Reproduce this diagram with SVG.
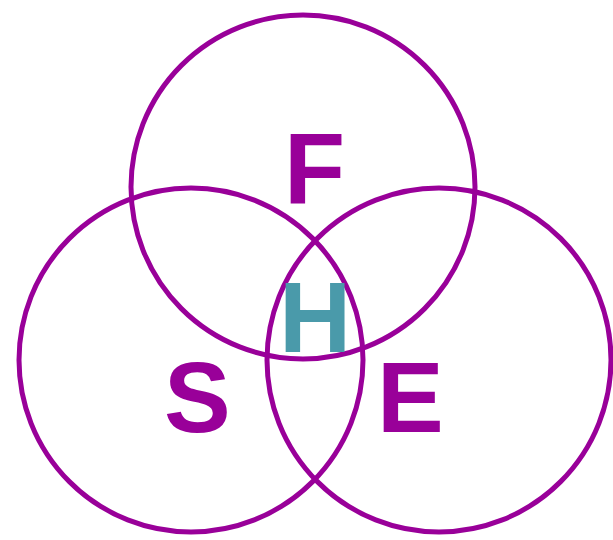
<svg xmlns="http://www.w3.org/2000/svg" width="613" height="540" viewBox="0 0 613 540">
<style>
.c{fill:none;stroke:#990099;stroke-width:5}
.t{font-family:"Liberation Sans",Arial,sans-serif;font-weight:bold;font-size:100px;fill:#990099}
.h{fill:#4A9AAA}
</style>
<rect width="613" height="540" fill="#fff"/>
<g id="circles">
<circle id="circle-f" class="c" cx="303" cy="187" r="172"/>
<circle id="circle-s" class="c" cx="191" cy="360" r="172"/>
<circle id="circle-e" class="c" cx="439" cy="360" r="172"/>
</g>
<g id="label-f"><text class="t" x="284" y="203">F</text></g>
<g id="label-s"><text class="t" x="164" y="432">S</text></g>
<g id="label-e"><text class="t" x="377" y="432">E</text></g>
<g id="label-h"><text class="t h" x="279" y="352">H</text></g>
</svg>
